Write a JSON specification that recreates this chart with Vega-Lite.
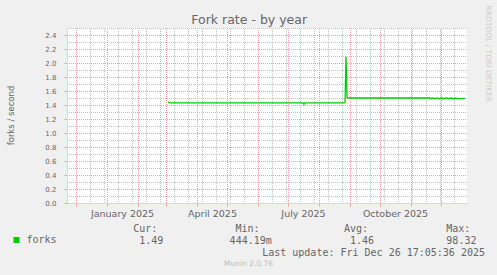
{
  "$schema": "https://vega.github.io/schema/vega-lite/v6.json",
  "width": 400,
  "height": 175,
  "autosize": "none",
  "padding": {"left": 67, "top": 28, "right": 30, "bottom": 72},
  "background": "#F0F0F0",
  "title": {"text": "Munin 2.0.76", "orient": "bottom", "frame": "group", "anchor": "middle", "dx": -18.5, "offset": 6.6, "baseline": "middle", "fontSize": 7.5, "fontWeight": "normal", "color": "#BBBBBB", "font": "DejaVu Sans"},
  "config": {
    "view": {"fill": "#FFFFFF", "stroke": null},
    "font": "DejaVu Sans"
  },
  "data": {"values": [
    {"date": "2025-03-03T00:00:00", "forks": 1.44},
    {"date": "2025-03-05T00:00:00", "forks": 1.43},
    {"date": "2025-07-16T00:00:00", "forks": 1.43},
    {"date": "2025-07-17T00:00:00", "forks": 1.41},
    {"date": "2025-07-18T00:00:00", "forks": 1.43},
    {"date": "2025-08-26T00:00:00", "forks": 1.43},
    {"date": "2025-08-27T00:00:00", "forks": 1.44},
    {"date": "2025-08-28T00:00:00", "forks": 2.09},
    {"date": "2025-08-29T00:00:00", "forks": 1.51},
    {"date": "2025-08-30T00:00:00", "forks": 1.5},
    {"date": "2025-11-20T00:00:00", "forks": 1.5},
    {"date": "2025-11-21T00:00:00", "forks": 1.49},
    {"date": "2025-11-23T00:00:00", "forks": 1.5},
    {"date": "2025-11-25T00:00:00", "forks": 1.49},
    {"date": "2025-11-27T00:00:00", "forks": 1.5},
    {"date": "2025-11-29T00:00:00", "forks": 1.49},
    {"date": "2025-12-01T00:00:00", "forks": 1.5},
    {"date": "2025-12-04T00:00:00", "forks": 1.49},
    {"date": "2025-12-06T00:00:00", "forks": 1.5},
    {"date": "2025-12-09T00:00:00", "forks": 1.49},
    {"date": "2025-12-11T00:00:00", "forks": 1.5},
    {"date": "2025-12-14T00:00:00", "forks": 1.49},
    {"date": "2025-12-16T00:00:00", "forks": 1.5},
    {"date": "2025-12-17T00:00:00", "forks": 1.49},
    {"date": "2025-12-25T00:00:00", "forks": 1.49}
  ]},
  "resolve": {"axis": {"x": "independent", "y": "independent"}},
  "layer": [
    {
      "mark": {"type": "line", "strokeWidth": 1.3, "interpolate": "linear"},
      "encoding": {
        "x": {
          "field": "date", "type": "temporal",
          "scale": {"type": "time", "domain": [{"year": 2024, "month": 11, "date": 22}, {"year": 2025, "month": 12, "date": 27}], "nice": false},
          "axis": {
            "orient": "bottom",
            "values": [
              {"year": 2024, "month": 12, "date": 1},
              {"year": 2025, "month": 1, "date": 1},
              {"year": 2025, "month": 2, "date": 1},
              {"year": 2025, "month": 3, "date": 1},
              {"year": 2025, "month": 4, "date": 1},
              {"year": 2025, "month": 5, "date": 1},
              {"year": 2025, "month": 6, "date": 1},
              {"year": 2025, "month": 7, "date": 1},
              {"year": 2025, "month": 8, "date": 1},
              {"year": 2025, "month": 9, "date": 1},
              {"year": 2025, "month": 10, "date": 1},
              {"year": 2025, "month": 11, "date": 1},
              {"year": 2025, "month": 12, "date": 1}
            ],
            "labelExpr": "month(datum.value) % 3 == 0 ? timeFormat(datum.value, '%B %Y') : ''",
            "labelOffset": 15,
            "labelFont": "DejaVu Sans",
            "labelFontSize": 9.5,
            "labelColor": "#666666",
            "labelPadding": 2,
            "labelOverlap": false,
            "labelFlush": false,
            "labelBound": false,
            "tickSize": 3,
            "tickColor": "#EAA0A0",
            "domainColor": "#CFD6F8",
            "grid": true,
            "gridColor": "#EAA0A0",
            "gridDash": [1, 1],
            "gridDashOffset": 0.5,
            "gridWidth": 1,
            "title": "1.49\u00a0\u00a0\u00a0\u00a0\u00a0\u00a0\u00a0\u00a0\u00a0\u00a0\u00a0444.19m\u00a0\u00a0\u00a0\u00a0\u00a0\u00a0\u00a0\u00a0\u00a0\u00a0\u00a0\u00a0\u00a01.46\u00a0\u00a0\u00a0\u00a0\u00a0\u00a0\u00a0\u00a0\u00a0\u00a0\u00a0\u00a098.32",
            "titleFont": "DejaVu Sans Mono",
            "titleFontSize": 10,
            "titleFontWeight": "normal",
            "titleColor": "#666666",
            "titleAlign": "left",
            "titleBaseline": "alphabetic",
            "titleX": 71.8,
            "titleY": 40.3
          }
        },
        "y": {
          "field": "forks", "type": "quantitative",
          "scale": {"domain": [0, 2.5], "nice": false, "zero": true},
          "axis": {
            "orient": "left",
            "values": [0, 0.2, 0.4, 0.6, 0.8, 1.0, 1.2, 1.4, 1.6, 1.8, 2.0, 2.2, 2.4],
            "format": ".1f",
            "labelFont": "DejaVu Sans",
            "labelFontSize": 7,
            "labelColor": "#666666",
            "labelPadding": 8,
            "tickSize": 3,
            "tickColor": "#EAA0A0",
            "domainColor": "#CFD6F8",
            "grid": true,
            "gridColor": "#EAA0A0",
            "gridDash": [1, 1],
            "gridDashOffset": 0.5,
            "gridWidth": 1,
            "title": "forks / second",
            "titleFont": "DejaVu Sans",
            "titleFontSize": 8.5,
            "titleFontWeight": "normal",
            "titleColor": "#666666",
            "titleAngle": -90,
            "titleAlign": "center",
            "titleBaseline": "middle",
            "titleX": -57,
            "titleY": 87
          }
        },
        "color": {
          "datum": "forks", "type": "nominal",
          "scale": {"range": ["#00CC00"]},
          "legend": {
            "orient": "none", "legendX": -55.5, "legendY": 207, "title": null, "padding": 0,
            "symbolType": "square", "symbolSize": 36,
            "labelFont": "DejaVu Sans Mono", "labelFontSize": 10, "labelColor": "#666666", "labelOffset": 5,
            "encode": {"symbols": {"update": {"fill": {"value": "#00CC00"}, "stroke": {"value": "#00CC00"}, "strokeWidth": {"value": 0}, "shape": {"value": "square"}, "size": {"value": 36}, "opacity": {"value": 1}}}}
          }
        }
      }
    },
    {
      "mark": {"type": "line", "opacity": 0},
      "encoding": {
        "x": {
          "field": "date", "type": "temporal",
          "axis": {
            "orient": "top",
            "values": [
              {"year": 2024, "month": 12, "date": 15},
              {"year": 2024, "month": 12, "date": 29},
              {"year": 2025, "month": 1, "date": 12},
              {"year": 2025, "month": 1, "date": 26},
              {"year": 2025, "month": 2, "date": 9},
              {"year": 2025, "month": 2, "date": 23},
              {"year": 2025, "month": 3, "date": 9},
              {"year": 2025, "month": 3, "date": 23},
              {"year": 2025, "month": 4, "date": 6},
              {"year": 2025, "month": 4, "date": 20},
              {"year": 2025, "month": 5, "date": 4},
              {"year": 2025, "month": 5, "date": 18},
              {"year": 2025, "month": 6, "date": 15},
              {"year": 2025, "month": 6, "date": 29},
              {"year": 2025, "month": 7, "date": 13},
              {"year": 2025, "month": 7, "date": 27},
              {"year": 2025, "month": 8, "date": 10},
              {"year": 2025, "month": 8, "date": 24},
              {"year": 2025, "month": 9, "date": 7},
              {"year": 2025, "month": 9, "date": 21},
              {"year": 2025, "month": 10, "date": 5},
              {"year": 2025, "month": 10, "date": 19},
              {"year": 2025, "month": 11, "date": 2},
              {"year": 2025, "month": 11, "date": 16},
              {"year": 2025, "month": 11, "date": 30},
              {"year": 2025, "month": 12, "date": 14}
            ],
            "labels": false, "ticks": false, "domain": false,
            "grid": true, "gridColor": "#C0C0C0", "gridDash": [1, 1], "gridDashOffset": 0.5, "gridWidth": 1,
            "title": "Fork rate - by year",
            "titleFont": "DejaVu Sans",
            "titleFontSize": 12.5,
            "titleFontWeight": "normal",
            "titleColor": "#666666",
            "titleAlign": "center",
            "titleBaseline": "alphabetic",
            "titleAngle": 0,
            "titleX": 181.7,
            "titleY": -5
          }
        },
        "y": {
          "field": "forks", "type": "quantitative",
          "axis": {
            "orient": "right",
            "values": [0.1, 0.3, 0.5, 0.7, 0.9, 1.1, 1.3, 1.5, 1.7, 1.9, 2.1, 2.3, 2.5],
            "labels": false, "ticks": false, "domain": false,
            "grid": true, "gridColor": "#C0C0C0", "gridDash": [1, 1], "gridDashOffset": 0.5, "gridWidth": 1,
            "title": "RRDTOOL / TOBI OETIKER",
            "titleFont": "DejaVu Sans",
            "titleFontSize": 7.5,
            "titleFontWeight": "normal",
            "titleColor": "#CCCCCC",
            "titleAngle": 90,
            "titleAlign": "center",
            "titleBaseline": "middle",
            "titleX": 20,
            "titleY": 25.3
          }
        }
      }
    },
    {
      "mark": {"type": "line", "opacity": 0},
      "encoding": {
        "x": {
          "field": "date", "type": "temporal",
          "axis": {
            "orient": "bottom",
            "labels": false, "ticks": false, "domain": false, "grid": false,
            "title": "Cur:\u00a0\u00a0\u00a0\u00a0\u00a0\u00a0\u00a0\u00a0\u00a0\u00a0\u00a0\u00a0\u00a0Min:\u00a0\u00a0\u00a0\u00a0\u00a0\u00a0\u00a0\u00a0\u00a0\u00a0\u00a0\u00a0\u00a0\u00a0Avg:\u00a0\u00a0\u00a0\u00a0\u00a0\u00a0\u00a0\u00a0\u00a0\u00a0\u00a0\u00a0\u00a0Max:",
            "titleFont": "DejaVu Sans Mono",
            "titleFontSize": 10,
            "titleFontWeight": "normal",
            "titleColor": "#666666",
            "titleAlign": "left",
            "titleBaseline": "alphabetic",
            "titleX": 65.7,
            "titleY": 28.3
          }
        },
        "y": {"field": "forks", "type": "quantitative", "axis": null}
      }
    },
    {
      "mark": {"type": "line", "opacity": 0},
      "encoding": {
        "x": {
          "field": "date", "type": "temporal",
          "axis": {
            "orient": "bottom",
            "labels": false, "ticks": false, "domain": false, "grid": false,
            "title": "Last update: Fri Dec 26 17:05:36 2025",
            "titleFont": "DejaVu Sans Mono",
            "titleFontSize": 10,
            "titleFontWeight": "normal",
            "titleColor": "#666666",
            "titleAlign": "left",
            "titleBaseline": "alphabetic",
            "titleX": 194.7,
            "titleY": 52.3
          }
        },
        "y": {"field": "forks", "type": "quantitative", "axis": null}
      }
    }
  ]
}
